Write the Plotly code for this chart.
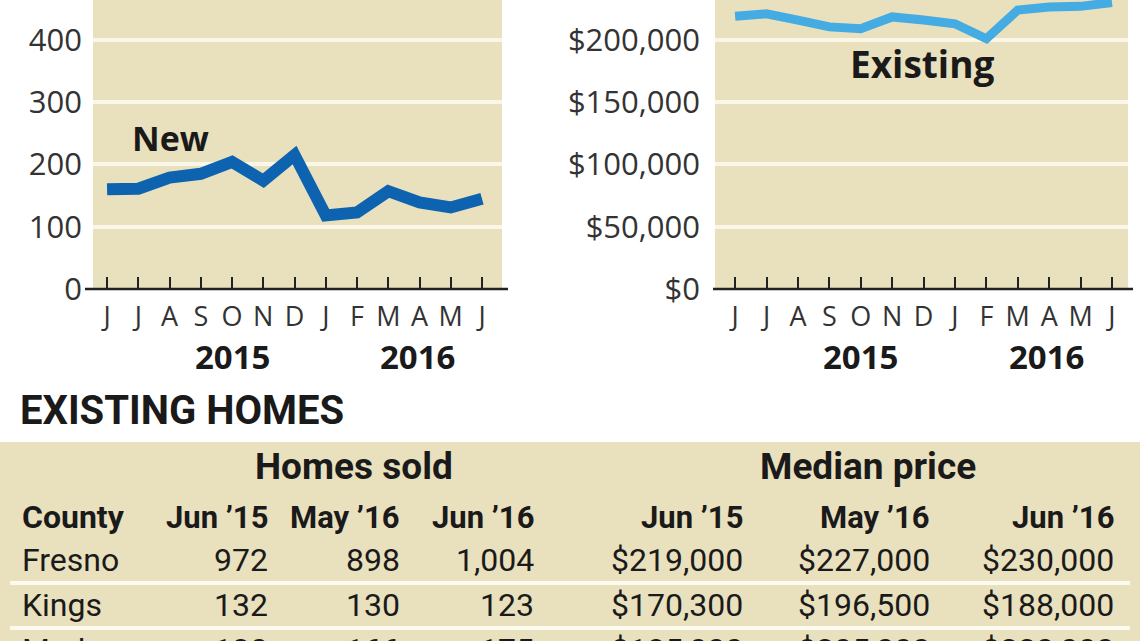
import plotly.graph_objects as go

# ---- data ----
months = ["Jun 15", "Jul 15", "Aug 15", "Sep 15", "Oct 15", "Nov 15", "Dec 15",
          "Jan 16", "Feb 16", "Mar 16", "Apr 16", "May 16", "Jun 16"]
month_letters = ["J", "J", "A", "S", "O", "N", "D", "J", "F", "M", "A", "M", "J"]
new_sold = [160, 161, 179, 185, 204, 174, 215, 118, 123, 157, 139, 131, 145]
existing_price = [219000, 221000, 216000, 210500, 209000, 218500, 216000,
                  213000, 201000, 224000, 226500, 227000, 230000]
years = ["2015", "2016"]
year_pos = [4.0, 9.92]
sold_ticks = [0, 100, 200, 300, 400]
price_ticks = [0, 50000, 100000, 150000, 200000]

counties = ["Fresno", "Kings", "Madera"]
sold_jun15 = [972, 132, 130]
sold_may16 = [898, 130, 166]
sold_jun16 = [1004, 123, 175]
price_jun15 = [219000, 170300, 185000]
price_may16 = [227000, 196500, 205000]
price_jun16 = [230000, 188000, 220000]
col_heads = ["Jun \u201915", "May \u201916", "Jun \u201916", "Jun \u201915", "May \u201916", "Jun \u201916"]

W, H = 1140, 641
BG = "#e9e0bd"
GRID = "#fbf7e8"
INK = "#1a1a1a"
TICKFONT = "Open Sans"
TABFONT = "Roboto"


def px(x):
    return x / W


def py(y):
    return 1 - y / H


fig = go.Figure()
fig.add_trace(go.Scatter(x=list(range(len(months))), y=new_sold, mode="lines",
                         line=dict(color="#0e63b0", width=12), xaxis="x", yaxis="y",
                         hoverinfo="skip"))
fig.add_trace(go.Scatter(x=list(range(len(months))), y=existing_price, mode="lines",
                         line=dict(color="#45abe3", width=9), xaxis="x2", yaxis="y2",
                         hoverinfo="skip"))

xcommon = dict(tickmode="array", tickvals=list(range(len(months))), ticktext=month_letters,
               ticks="inside", ticklen=12, tickwidth=2, tickcolor="#222",
               showgrid=False, zeroline=False, showline=False, automargin=False,
               tickfont=dict(family=TICKFONT, size=27, color="#333"),
               ticklabelstandoff=9, fixedrange=True)
ycommon = dict(showgrid=True, gridcolor=GRID, gridwidth=3.5, zeroline=False,
               showline=False, ticks="", fixedrange=True, tickmode="array", automargin=False,
               tickfont=dict(family=TICKFONT, size=31, color="#333"))

fig.update_layout(
    width=W, height=H,
    margin=dict(l=0, r=0, t=0, b=0, pad=0, autoexpand=False),
    paper_bgcolor="white",
    plot_bgcolor=BG,
    showlegend=False,
    xaxis=dict(domain=[px(93), px(502)], range=[-0.45, 12.64], anchor="y", **xcommon),
    yaxis=dict(domain=[py(289), 1], range=[0, 464], anchor="x",
               tickvals=sold_ticks, ticktext=[str(v) for v in sold_ticks],
               ticklabelstandoff=10, **ycommon),
    xaxis2=dict(domain=[px(715), px(1128)], range=[-0.64, 12.51], anchor="y2", **xcommon),
    yaxis2=dict(domain=[py(289), 1], range=[0, 232100], anchor="x2",
                tickvals=price_ticks, ticktext=[f"${v:,}" for v in price_ticks],
                ticklabelstandoff=14, **ycommon),
)

shapes = []
# axis base lines, running a little past the plot area
shapes.append(dict(type="line", xref="paper", yref="paper", x0=px(85), x1=px(508),
                   y0=py(289), y1=py(289), line=dict(color="#222", width=2.5)))
shapes.append(dict(type="line", xref="paper", yref="paper", x0=px(713), x1=px(1133),
                   y0=py(289), y1=py(289), line=dict(color="#222", width=2.5)))
# table panel
shapes.append(dict(type="rect", xref="paper", yref="paper", x0=0, x1=1,
                   y0=0, y1=py(442), fillcolor=BG, line=dict(width=0), layer="below"))
for sy in [583, 628]:
    shapes.append(dict(type="line", xref="paper", yref="paper", x0=px(10), x1=px(1130),
                       y0=py(sy), y1=py(sy), line=dict(color="#fdfaf0", width=4)))

ann = []
ann.append(dict(text="New", x=2.04, y=242, xref="x", yref="y", showarrow=False,
                font=dict(family=TICKFONT, size=34, color=INK, weight=700)))
ann.append(dict(text="Existing", x=5.95, y=181500, xref="x2", yref="y2", showarrow=False,
                font=dict(family=TICKFONT, size=37, color=INK, weight=700)))
for xr in ["x", "x2"]:
    for yr, yp in zip(years, year_pos):
        ann.append(dict(text=yr, x=yp, y=py(356), xref=xr, yref="paper", showarrow=False,
                        yanchor="middle",
                        font=dict(family=TICKFONT, size=33, color=INK, weight=700)))

# table text
ann.append(dict(text="EXISTING HOMES", x=px(18), y=py(410), xref="paper", yref="paper",
                xanchor="left", yanchor="middle", showarrow=False,
                font=dict(family=TABFONT, size=40, color=INK, weight=700)))
for t, cx in [("Homes sold", 354), ("Median price", 868)]:
    ann.append(dict(text=t, x=px(cx), y=py(466), xref="paper", yref="paper",
                    xanchor="center", yanchor="middle", showarrow=False,
                    font=dict(family=TABFONT, size=37, color=INK, weight=700)))
col_x = [270, 402, 536, 745, 932, 1116]
ann.append(dict(text="County", x=px(20), y=py(517), xref="paper", yref="paper",
                xanchor="left", yanchor="middle", showarrow=False,
                font=dict(family=TABFONT, size=32, color=INK, weight=700)))
for t, cx in zip(col_heads, col_x):
    ann.append(dict(text=t, x=px(cx), y=py(517), xref="paper", yref="paper",
                    xanchor="right", yanchor="middle", showarrow=False,
                    font=dict(family=TABFONT, size=31, color=INK, weight=700)))

row_y = [560, 605, 650]
for i, name in enumerate(counties):
    cells = [f"{sold_jun15[i]:,}", f"{sold_may16[i]:,}", f"{sold_jun16[i]:,}",
             f"${price_jun15[i]:,}", f"${price_may16[i]:,}", f"${price_jun16[i]:,}"]
    ann.append(dict(text=name, x=px(20), y=py(row_y[i]), xref="paper", yref="paper",
                    xanchor="left", yanchor="middle", showarrow=False,
                    font=dict(family=TABFONT, size=32, color=INK)))
    for t, cx in zip(cells, col_x):
        ann.append(dict(text=t, x=px(cx), y=py(row_y[i]), xref="paper", yref="paper",
                        xanchor="right", yanchor="middle", showarrow=False,
                        font=dict(family=TABFONT, size=32, color=INK)))

fig.update_layout(shapes=shapes, annotations=ann)
fig.write_html("out.html", config={"displayModeBar": False},
               post_script="document.body.style.margin='0';document.body.style.overflow='hidden';")
